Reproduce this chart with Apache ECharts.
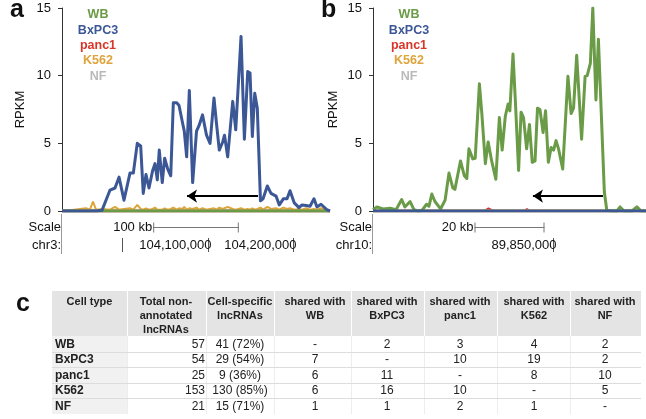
<!DOCTYPE html>
<html><head><meta charset="utf-8">
<script src="https://cdn.jsdelivr.net/npm/echarts@6/dist/echarts.min.js"></script>
<style>html,body{margin:0;padding:0;background:#fff}#c{width:646px;height:419px}</style>
</head><body><div id="c"></div>
<script>
// ---------------- DATA ----------------
const seriesNames = ['WB', 'BxPC3', 'panc1', 'K562', 'NF'];

// Panel a: chr3 window (positions in kb)
const chromA = 'chr3:';
const windowA = [103930.0, 104243.0];
const scaleKbA = 100;
const chrTicksA = [104000, 104100, 104200];
const chrTickLabelsA = ['', '104,100,000', '104,200,000'];
const posA = [103930.0, 103939.3, 103951.0, 103958.0, 103962.7, 103966.2, 103969.7, 103976.7, 103986.1, 103991.9,
  103996.6, 104002.4, 104009.4, 104013.3, 104017.9, 104021.9, 104024.9, 104028.1, 104031.6, 104035.9,
  104038.6, 104041.3, 104043.6, 104047.1, 104049.9, 104053.5, 104057.0, 104060.0, 104064.0, 104066.7,
  104070.5, 104072.8, 104075.6, 104078.7, 104082.6, 104087.1, 104090.0, 104094.1, 104098.8, 104102.9,
  104107.5, 104110.7, 104113.7, 104117.7, 104119.8, 104123.5, 104129.4, 104132.9, 104139.1, 104143.0,
  104146.9, 104149.6, 104152.3, 104155.1, 104158.1, 104161.8, 104164.8, 104169.8, 104174.1, 104180.0,
  104183.8, 104188.5, 104192.8, 104196.3, 104201.3, 104206.8, 104210.3, 104215.0, 104219.7, 104224.3,
  104227.8, 104232.5, 104239.2, 104243.0];
const bxpc3A = [0, 0, 0, 0, 0, 0, 0, 0.05, 1.55, 1.7,
  2.5, 0.8, 2.8, 2.8, 5.0, 4.8, 1.3, 2.7, 1.7, 3.0,
  3.5, 2.3, 4.5, 2.1, 3.9, 3.1, 2.6, 8.0, 8.0, 7.8,
  6.6, 5.9, 4.0, 8.9, 2.1, 5.9, 6.3, 7.1, 5.6, 5.0,
  8.35, 6.3, 4.5, 5.1, 5.6, 4.0, 8.1, 6.0, 12.9, 5.3,
  10.3, 10.2, 5.5, 8.7, 7.6, 0.75, 0.9, 1.85, 1.3, 1.1,
  0.45, 0.9, 0.9, 1.5, 0.6, 0.25, 0.45, 0.4, 0.35, 0.9,
  0.3, 0.5, 0.1, 0];
const k562A = [0, 0.05, 0.15, 0.2, 0.1, 0.7, 0.1, 0.15, 0.1, 0.3,
  0.1, 0.15, 0.2, 0.1, 0.45, 0.15, 0.1, 0.2, 0.1, 0.15,
  0.25, 0.1, 0.15, 0.1, 0.2, 0.1, 0.15, 0.25, 0.1, 0.2,
  0.15, 0.3, 0.1, 0.2, 0.15, 0.25, 0.1, 0.2, 0.1, 0.15,
  0.2, 0.1, 0.25, 0.15, 0.1, 0.3, 0.15, 0.1, 0.2, 0.1,
  0.15, 0.1, 0.2, 0.1, 0.15, 0.25, 0.1, 0.3, 0.15, 0.2,
  0.1, 0.25, 0.15, 0.2, 0.1, 0.15, 0.1, 0.2, 0.1, 0.15,
  0.1, 0.2, 0.1, 0];
const flatPosA = [103930.0, 104243.0];
const wbA = [0, 0];
const panc1A = [0, 0];
const nfA = [0, 0];
const arrowA = { from: 104159, to: 104076, y: 1.1 };

// Panel b: chr10 window (positions in kb)
const chromB = 'chr10:';
const windowB = [89798.6, 89876.6];
const scaleKbB = 20;
const chrTicksB = [89850];
const chrTickLabelsB = ['89,850,000'];
const posB = [89798.6, 89799.7, 89801.5, 89803.5, 89805.2, 89806.8, 89807.7, 89809.2, 89810.3, 89811.5,
  89812.6, 89813.9, 89814.6, 89815.4, 89816.3, 89817.9, 89819.2, 89820.3, 89821.4, 89822.0,
  89823.6, 89824.7, 89825.4, 89826.0, 89827.1, 89827.8, 89829.0, 89829.7, 89830.7, 89831.5,
  89832.5, 89833.7, 89834.7, 89835.5, 89836.4, 89837.2, 89837.7, 89838.6, 89839.3, 89840.2,
  89840.9, 89841.6, 89842.5, 89843.3, 89844.1, 89844.9, 89845.6, 89846.3, 89847.2, 89847.9,
  89848.7, 89849.5, 89850.2, 89850.9, 89851.6, 89852.8, 89854.3, 89855.2, 89855.9, 89856.8,
  89858.2, 89859.2, 89859.8, 89860.7, 89861.4, 89862.3, 89863.0, 89864.7, 89865.4, 89866.9,
  89868.3, 89869.2, 89870.3, 89872.6, 89874.0, 89875.2, 89876.6];
const wbB = [0.1, 0.3, 0.15, 0.2, 0.1, 0.85, 0.3, 0.7, 0.1, 0,
  0.05, 0.5, 0.35, 1.25, 0.7, 0.15, 0.8, 2.8, 1.7, 1.6,
  3.7, 2.6, 2.4, 4.6, 3.85, 3.9, 9.4, 7.2, 3.5, 5.1,
  3.7, 2.35, 6.9, 4.5, 7.0, 7.9, 7.4, 11.6, 8.0, 3.0,
  7.3, 6.9, 4.6, 6.4, 3.6, 3.7, 7.6, 7.5, 5.8, 7.4,
  3.6, 4.7, 4.5, 5.2, 4.6, 3.1, 9.95, 7.2, 7.6, 11.5,
  5.3, 9.95, 10.0, 10.9, 15.0, 8.2, 12.7, 1.4, 0.05, 0,
  0, 0.3, 0, 0, 0.3, 0, 0];
const panc1PosB = [89798.6, 89830.4, 89831.6, 89833.0, 89841.8, 89842.6, 89843.4, 89876.6];
const panc1B = [0, 0, 0.2, 0, 0, 0.15, 0, 0];
const flatPosB = [89798.6, 89876.6];
const bxpc3B = [0, 0];
const k562B = [0, 0];
const nfB = [0, 0];
const arrowB = { from: 89864.3, to: 89844.3, y: 1.1 };

// RPKM axis
const rpkmMax = 15, rpkmStep = 5;

// Panel c: table
const tableHeaders = ['Cell type', 'Total non-\nannotated\nlncRNAs', 'Cell-specific\nlncRNAs',
  'shared with\nWB', 'shared with\nBxPC3', 'shared with\npanc1', 'shared with\nK562', 'shared with\nNF'];
const cellTypes = ['WB', 'BxPC3', 'panc1', 'K562', 'NF'];
const totalLnc = [57, 54, 25, 153, 21];
const specificCount = [41, 29, 9, 130, 15];
const specificPct = [72, 54, 36, 85, 71];
const sharedWith = [
  ['-', 2, 3, 4, 2],
  [7, '-', 10, 19, 2],
  [6, 11, '-', 8, 10],
  [6, 16, 10, '-', 5],
  [1, 1, 2, 1, '-']
];

// ---------------- STYLE ----------------
const FONT = '"Liberation Sans", Arial, Helvetica, sans-serif';
const COLORS = { WB: '#6a9b46', BxPC3: '#3c5796', panc1: '#d7372a', K562: '#dea43c', NF: '#b9b9b9' };
const gridA = { left: 62, top: 8, width: 268, height: 203 };
const gridB = { left: 373, top: 8, width: 273, height: 203 };

const chart = echarts.init(document.getElementById('c'));

function pairs(xs, ys) { return xs.map((x, i) => [x, ys[i]]); }
function line(name, gi, xs, ys, z, extra) {
  return Object.assign({
    type: 'line', name: name + gi, xAxisIndex: gi, yAxisIndex: gi, data: pairs(xs, ys),
    symbol: 'none', showSymbol: false, animation: false, z: z, silent: true,
    lineStyle: { width: 3, color: COLORS[name], join: 'round' }, itemStyle: { color: COLORS[name] }
  }, extra || {});
}
function arrowMark(a) {
  return {
    silent: true, animation: false, symbol: ['none', 'arrow'], symbolSize: 10,
    lineStyle: { color: '#000', width: 2, type: 'solid' }, itemStyle: { color: '#000' }, label: { show: false },
    emphasis: { disabled: true },
    data: [[{ coord: [a.from, a.y] }, { coord: [a.to, a.y] }]]
  };
}
function yAxis(gi, gap) {
  return {
    gridIndex: gi, type: 'value', min: 0, max: rpkmMax, interval: rpkmStep,
    name: 'RPKM', nameLocation: 'middle', nameGap: gap, nameRotate: 90,
    nameTextStyle: { fontSize: 13, color: '#111', fontFamily: FONT },
    axisLine: { show: true, lineStyle: { color: '#333', width: 1 } },
    axisTick: { show: true, length: 4, lineStyle: { color: '#333' } },
    axisLabel: { fontSize: 13, color: '#111', margin: 11, fontFamily: FONT },
    splitLine: { show: false }
  };
}
function xAxis(gi, win) {
  return {
    gridIndex: gi, type: 'value', min: win[0], max: win[1], show: false,
    axisLine: { show: false }, splitLine: { show: false }, axisTick: { show: false }, axisLabel: { show: false }
  };
}

const option = {
  animation: false,
  grid: [gridA, gridB],
  xAxis: [xAxis(0, windowA), xAxis(1, windowB)],
  yAxis: [yAxis(0, 35), yAxis(1, 33)],
  series: [
    line('panc1', 0, flatPosA, panc1A, 1),
    line('NF', 0, flatPosA, nfA, 2),
    line('K562', 0, posA, k562A, 3, { lineStyle: { width: 2, color: COLORS.K562 } }),
    line('WB', 0, flatPosA, wbA, 4),
    line('BxPC3', 0, posA, bxpc3A, 5, { markLine: arrowMark(arrowA) }),
    line('panc1', 1, panc1PosB, panc1B, 1, { lineStyle: { width: 2, color: COLORS.panc1 } }),
    line('NF', 1, flatPosB, nfB, 2),
    line('K562', 1, flatPosB, k562B, 3),
    line('WB', 1, posB, wbB, 4, { markLine: arrowMark(arrowB) }),
    line('BxPC3', 1, flatPosB, bxpc3B, 5)
  ]
};
chart.setOption(option);

// ---------------- ANNOTATIONS ----------------
const g = [];
function txt(x, y, text, o) {
  g.push({ type: 'text', silent: true, z: 100, style: Object.assign({
    x: x, y: y, text: text, fill: '#111', font: '13px ' + FONT, textAlign: 'left', textVerticalAlign: 'middle'
  }, o || {}) });
}
function ln(x1, y1, x2, y2, color, w) {
  g.push({ type: 'line', silent: true, z: 100, shape: { x1: x1, y1: y1, x2: x2, y2: y2 },
    style: { stroke: color, lineWidth: w || 1 } });
}

// panel letters
txt(10, 10, 'a', { font: 'bold 25px ' + FONT });
txt(321, 10, 'b', { font: 'bold 25px ' + FONT });
txt(16, 304, 'c', { font: 'bold 25px ' + FONT });

// legends
[98, 409].forEach(cx => {
  seriesNames.forEach((n, i) => {
    txt(cx, 15 + 15.3 * i, n, { fill: COLORS[n], font: 'bold 12.5px ' + FONT, textAlign: 'center' });
  });
});

// scale bars and chromosome rows
[[0, gridA, windowA, scaleKbA, chromA, chrTicksA, chrTickLabelsA],
 [1, gridB, windowB, scaleKbB, chromB, chrTicksB, chrTickLabelsB]].forEach(([gi, gr, win, kb, chrom, ticks, labels]) => {
  const mid = (win[0] + win[1]) / 2;
  const p1 = chart.convertToPixel({ gridIndex: gi }, [mid - kb / 2, 0]);
  const p2 = chart.convertToPixel({ gridIndex: gi }, [mid + kb / 2, 0]);
  const ys = 227.5;
  ln(p1[0], ys, p2[0], ys, '#777');
  ln(p1[0] + 0.5, ys - 5, p1[0] + 0.5, ys + 5, '#777');
  ln(p2[0] - 0.5, ys - 5, p2[0] - 0.5, ys + 5, '#777');
  txt(p1[0] - 1, ys, kb + ' kb', { textAlign: 'right' });
  txt(gr.left - 1, ys, 'Scale', { textAlign: 'right' });
  txt(gr.left - 1, 245, chrom, { textAlign: 'right' });
  ln(gr.left - 0.5, 214, gr.left - 0.5, 254, '#999');
  ticks.forEach((t, i) => {
    const px = Math.round(chart.convertToPixel({ gridIndex: gi }, [t, 0])[0]) + 0.5;
    ln(px, 238, px, 252, '#555');
    if (labels[i]) txt(px + 3, 245, labels[i], { textAlign: 'right' });
  });
});

// table
const tLeft = 52, tRight = 641, tTop = 291, headH = 45, rowH = 15.6;
const colB = [52, 127, 206, 274, 351, 424, 497, 570, 641];
const colC = [0, 166, 240, 315, 387, 460, 534, 605];
g.push({ type: 'rect', silent: true, z: 90, shape: { x: tLeft, y: tTop, width: tRight - tLeft, height: headH }, style: { fill: '#e4e4e4' } });
g.push({ type: 'rect', silent: true, z: 90, shape: { x: colB[0], y: tTop + headH, width: colB[1] - colB[0], height: rowH * cellTypes.length }, style: { fill: '#f1f1f1' } });
for (let c = 1; c < colB.length - 1; c++) {
  ln(colB[c] + 0.5, tTop, colB[c] + 0.5, tTop + headH, '#ffffff', 1);
  ln(colB[c] + 0.5, tTop + headH, colB[c] + 0.5, tTop + headH + rowH * cellTypes.length, '#ededed', 1);
}
for (let r = 1; r < cellTypes.length; r++) {
  const y = Math.round(tTop + headH + rowH * r) + 0.5;
  ln(tLeft, y, tRight, y, '#dcdcdc', 1);
}
tableHeaders.forEach((h, c) => {
  const cx = c === 0 ? (colB[0] + colB[1]) / 2 : colC[c];
  txt(cx, tTop + 4, h, { textAlign: 'center', textVerticalAlign: 'top', font: 'bold 11px ' + FONT, lineHeight: 14, fill: '#222' });
});
cellTypes.forEach((ct, r) => {
  const cy = tTop + headH + rowH * r + rowH / 2 + 0.5;
  txt(colB[0] + 3, cy, ct, { font: 'bold 12px ' + FONT, fill: '#222' });
  txt(colB[2] - 1, cy, String(totalLnc[r]), { textAlign: 'right', font: '12px ' + FONT, fill: '#222' });
  txt(colC[2], cy, specificCount[r] + ' (' + specificPct[r] + '%)', { textAlign: 'center', font: '12px ' + FONT, fill: '#222' });
  sharedWith[r].forEach((v, k) => {
    txt(colC[3 + k], cy, String(v), { textAlign: 'center', font: '12px ' + FONT, fill: '#222' });
  });
});

chart.setOption({ graphic: { elements: g } });
</script></body></html>
